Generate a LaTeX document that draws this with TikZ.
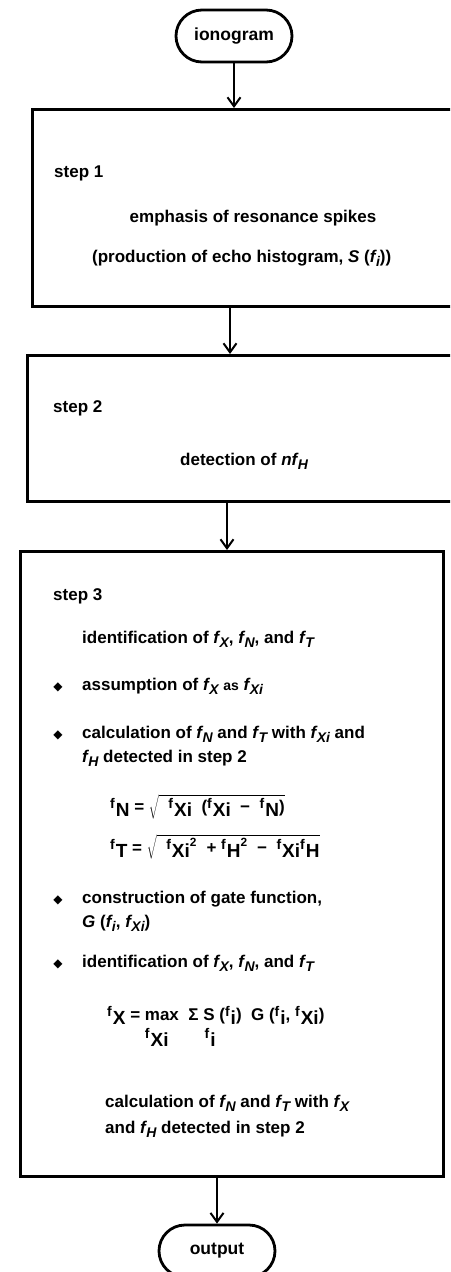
\documentclass[tikz,border=0pt]{standalone}
\usepackage{fontspec}
\setmainfont{Liberation Sans}
\newfontfamily\dvs{DejaVu Sans}
\usetikzlibrary{arrows.meta,shapes.misc}

\newcommand\fit[1]{{\itshape f\kern0.03em\raisebox{-0.45ex}{\fontsize{14}{14}\selectfont #1}}}
\newcommand\ef[1]{{\raisebox{0.4ex}{\fontsize{14}{14}\selectfont f}\kern0.06em\raisebox{-0.45ex}{\fontsize{19}{19}\selectfont #1}}}
\newcommand\bul{{\dvs\fontsize{12}{12}\selectfont ◆}}

\tikzset{
  box/.style={draw, line width=3pt, inner sep=0pt},
  arr/.style={line width=2.6pt, -{Straight Barb[length=9pt,width=13pt,line width=2pt]}},
  term/.style={draw, line width=2.8pt, rounded rectangle, minimum width=116pt, minimum height=52pt, inner sep=0pt, font=\bfseries\fontsize{17.5}{20}\selectfont},
  txt/.style={anchor=base west, inner sep=0pt, font=\bfseries\fontsize{17}{20}\selectfont},
  bl/.style={anchor=base, inner sep=0pt},
}

\begin{document}
\begin{tikzpicture}[x=1pt,y=-1pt]
\useasboundingbox (0,0) rectangle (450,1272);
\clip (0,0) rectangle (450,1272);
\fill[white] (0,0) rectangle (450,1272);

% terminals
\node[term] (io) at (234,36) {ionogram};
\node[term] (out) at (217,1251) {output};

% boxes
\node[box, anchor=north west, minimum width=440pt, minimum height=197pt] (b1) at (31,108) {};
\node[box, anchor=north west, minimum width=445pt, minimum height=146pt] (b2) at (26,354) {};
\node[box, anchor=north west, minimum width=423pt, minimum height=625pt] (b3) at (19,550) {};

% arrow x positions
\coordinate (c2) at (230,0);
\coordinate (c3) at (227,0);

\draw[arr] (io.south) -- (io.south |- b1.north);
\draw[arr] (b1.south -| c2) -- (b2.north -| c2);
\draw[arr] (b2.south -| c3) -- (b3.north -| c3);
\draw[arr] (b3.south -| out) -- (out.north);

% box 1
\node[txt] (s1) at (54,177) {step 1};
\node[txt, anchor=base] (e1) at (253,222) {emphasis of resonance spikes};
\node[txt] (p1) at (92,262) {(production of echo histogram, \textit{S} (\fit{i}))};

% box 2
\node[txt] (s2) at (53,412) {step 2};
\node[txt] (d2) at (180,465) {detection of \textit{n}\fit{H}};

% box 3
\node[txt] (s3) at (53,600) {step 3};
\node[txt] (i3) at (82,643) {identification of \fit{X}, \fit{N}, and \fit{T}};
\node[bl] (k1) at (58,690) {\bul};
\node[txt] (a3) at (82,690) {assumption of \fit{X} {\fontsize{14}{14}\selectfont as} \fit{Xi}};
\node[bl] (k2) at (58,738) {\bul};
\node[txt] (c3a) at (82,738) {calculation of \fit{N} and \fit{T} with \fit{Xi} and};
\node[txt] (c3b) at (82,762) {\fit{H} detected in step 2};
\node[txt] (q1) at (110,812) {\ef{N} = $\sqrt{\hbox{\ \ \ef{Xi}\ \ (\ef{Xi}\ \ − \ \ef{N})}}$};
\node[txt] (q2) at (110,853) {\ef{T} = $\sqrt{\hbox{\ \ \ef{Xi}\textsuperscript{2}\ \ + \ef{H}\textsuperscript{2}\ \ − \ \ef{Xi}\ef{H}}}$};
\node[bl] (k3) at (58,903) {\bul};
\node[txt] (g3a) at (82,903) {construction of gate function,};
\node[txt] (g3b) at (82,927) {\textit{G} (\fit{i}, \fit{Xi})};
\node[bl] (k4) at (58,967) {\bul};
\node[txt] (i3b) at (82,967) {identification of \fit{X}, \fit{N}, and \fit{T}};
\node[txt] (fx) at (107,1020) {\ef{X} = \rlap{\raisebox{-22pt}{\ef{Xi}}}max\ \ Σ\rlap{\raisebox{-22pt}{\hspace{6pt}\ef{i}}} S (\ef{i})\ \ G (\ef{i}, \ef{Xi})};
\node[txt] (f3a) at (105,1107) {calculation of \fit{N} and \fit{T} with \fit{X}};
\node[txt] (f3b) at (105,1133) {and \fit{H} detected in step 2};
\end{tikzpicture}
\end{document}
